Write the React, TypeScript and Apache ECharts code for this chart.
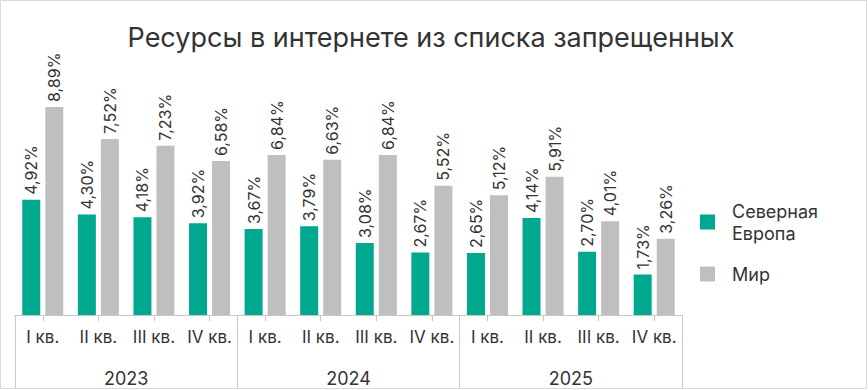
import React, { useEffect, useRef } from "react";
import * as echarts from "echarts";

const quarters = ["I кв.", "II кв.", "III кв.", "IV кв.", "I кв.", "II кв.", "III кв.", "IV кв.", "I кв.", "II кв.", "III кв.", "IV кв."];
const years = ["2023", "2024", "2025"];
const northEurope = [4.92, 4.30, 4.18, 3.92, 3.67, 3.79, 3.08, 2.67, 2.65, 4.14, 2.70, 1.73];
const world = [8.89, 7.52, 7.23, 6.58, 6.84, 6.63, 6.84, 5.52, 5.12, 5.91, 4.01, 3.26];
const seriesNames = ["Северная Европа", "Мир"];

const FONT = "Inter, 'Noto Sans', sans-serif";
const TEXT = "#333333";

export default function App() {
  const ref = useRef<HTMLDivElement>(null);
  useEffect(() => {
    document.body.style.margin = "0";
    if (!ref.current) return;
    const chart = echarts.init(ref.current, null, { renderer: "svg" });
    const fmt = (p: any) => Number(p.value).toFixed(2).replace(".", ",") + "%";
    const label = {
      show: true,
      position: "top",
      rotate: 90,
      align: "left",
      verticalAlign: "middle",
      distance: 5,
      fontSize: 16,
      fontFamily: FONT,
      color: TEXT,
      formatter: fmt,
    };
    chart.setOption({
      animation: false,
      textStyle: { fontFamily: FONT },
      title: {
        text: "Ресурсы в интернете из списка запрещенных",
        left: 426,
        top: 19,
        textAlign: "center",
        textStyle: { fontSize: 27, fontWeight: "normal", color: TEXT, fontFamily: FONT },
      },
      legend: {
        orient: "vertical",
        left: 695,
        top: 195,
        itemWidth: 15,
        itemHeight: 15,
        itemGap: 19,
        icon: "rect",
        formatter: (n: string) => n.replace(" ", "\n"),
        textStyle: { fontSize: 18, color: TEXT, fontFamily: FONT, lineHeight: 22, padding: [0, 0, 0, 12] },
        data: seriesNames,
      },
      grid: { left: 15, right: 186, top: 81, bottom: 75, containLabel: false },
      xAxis: [
        {
          type: "category",
          data: quarters,
          axisLine: { show: true, lineStyle: { color: "#c8c8c8", width: 1 } },
          axisTick: { show: true, alignWithLabel: true, length: 6, lineStyle: { color: "#c8c8c8" } },
          axisLabel: { interval: 0, fontSize: 17, color: TEXT, fontFamily: FONT, margin: 13 },
        },
        {
          type: "category",
          data: years,
          position: "bottom",
          axisLine: { show: true, lineStyle: { color: "#c8c8c8", width: 1 } },
          axisTick: { show: true, interval: 0, length: 73, lineStyle: { color: "#c8c8c8" } },
          axisLabel: { interval: 0, fontSize: 18, color: TEXT, fontFamily: FONT, margin: 54 },
        },
      ],
      yAxis: { type: "value", min: 0, max: 10, show: false, splitLine: { show: false } },
      series: [
        {
          name: seriesNames[0],
          type: "bar",
          xAxisIndex: 0,
          data: northEurope,
          barWidth: 18,
          barGap: "28%",
          itemStyle: { color: "#00A88E" },
          label,
        },
        {
          name: seriesNames[1],
          type: "bar",
          xAxisIndex: 0,
          data: world,
          barWidth: 18,
          barGap: "28%",
          itemStyle: { color: "#BFBFBF" },
          label,
        },
      ],
      graphic: [
        {
          type: "rect",
          shape: { x: 0.5, y: 0.5, width: 866, height: 388 },
          style: { fill: "none", stroke: "#d9d9d9", lineWidth: 1 },
          silent: true,
        },
      ],
    });
    return () => chart.dispose();
  }, []);
  return <div ref={ref} style={{ width: 868, height: 390 }} />;
}
